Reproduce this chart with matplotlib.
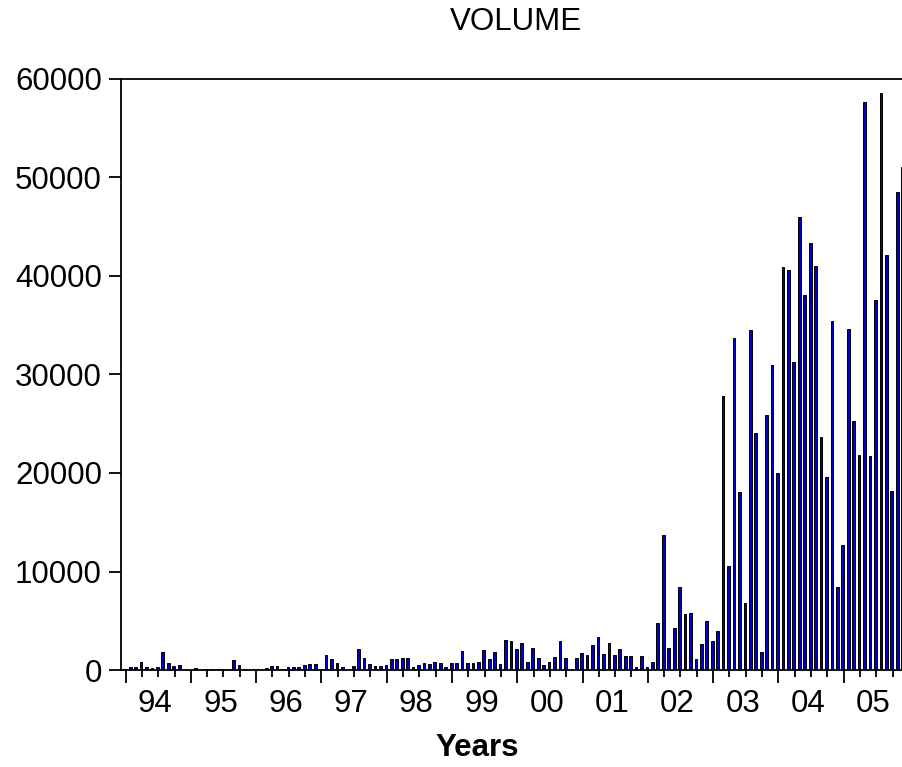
import numpy as np
import matplotlib
matplotlib.use("Agg")
import matplotlib.pyplot as plt

plt.rcParams["font.family"] = ["Liberation Sans", "DejaVu Sans"]

# monthly volume, Jan..Dec of each year (0 = no bar drawn)
YEARS = ["94", "95", "96", "97", "98", "99", "00", "01", "02", "03", "04", "05"]
v1994 = [150, 270, 270, 800, 300, 185, 270, 1820, 680, 435, 520, 0]
v1995 = [0, 170, 0, 100, 110, 120, 130, 140, 1050, 520, 70, 0]
v1996 = [100, 0, 250, 450, 370, 70, 340, 340, 300, 490, 650, 630]
v1997 = [0, 1520, 1150, 745, 300, 0, 450, 2170, 1170, 575, 420, 420]
v1998 = [490, 1100, 1130, 1180, 1230, 290, 500, 760, 575, 810, 710, 300]
v1999 = [690, 710, 1960, 675, 675, 830, 2010, 1110, 1780, 575, 3080, 2900]
v2000 = [2100, 2720, 840, 2200, 1250, 520, 800, 1300, 2920, 1220, 0, 1200]
v2001 = [1750, 1570, 2530, 3330, 1650, 2700, 1500, 2110, 1470, 1470, 290, 1400]
v2002 = [330, 830, 4730, 13700, 2280, 4300, 8400, 5700, 5800, 1100, 2600, 5000]
v2003 = [2900, 3940, 27800, 10600, 33700, 18050, 6850, 34500, 24050, 1870, 25900, 31000]
v2004 = [20000, 40950, 40650, 31300, 46000, 38050, 43400, 41000, 23650, 19600, 35450, 8450]
v2005 = [12650, 34600, 25300, 21850, 57650, 21750, 37550, 58550, 42150, 18200, 48500, 51050]

volume = np.array(v1994 + v1995 + v1996 + v1997 + v1998 + v1999 + v2000 + v2001
                  + v2002 + v2003 + v2004 + v2005, dtype=float)
months = np.arange(len(volume))

W, H = 903, 767
fig = plt.figure(figsize=(W / 100, H / 100), dpi=100)
ax = fig.add_axes([121.5 / W, (H - 670) / H, 784.4 / W, 591 / H])

mask = volume > 0
ax.bar(months[mask], volume[mask], width=0.5, color="#0000c8",
       edgecolor="black", linewidth=0.7)

ax.set_xlim(-0.6, 143.6)
ax.set_ylim(0, 60000)

ax.spines["right"].set_visible(False)
for s in ("left", "top", "bottom"):
    ax.spines[s].set_linewidth(1.3)

ax.set_yticks(np.arange(0, 60001, 10000))
ax.tick_params(axis="y", direction="out", length=8.6, width=1.3, pad=5.5, labelsize=22.5)

year_pos = np.arange(0, len(volume), 12) + 0.15
ax.set_xticks(year_pos)
ax.set_xticks(np.arange(0, len(volume), 3) + 0.15, minor=True)
ax.set_xticklabels([])
ax.tick_params(axis="x", which="major", direction="out", length=9.5, width=1.3)
ax.tick_params(axis="x", which="minor", direction="out", length=5, width=1.3)

for yp, lab in zip(year_pos, YEARS):
    ax.text(yp + 5.45, -0.0575, lab, transform=ax.get_xaxis_transform(),
            ha="center", va="center", fontsize=22.5)

fig.text(516 / W, 1 - 21.5 / H, "VOLUME", ha="center", va="center", fontsize=22.5)
fig.text(477 / W, 1 - 748 / H, "Years", ha="center", va="center", fontsize=22.5,
         fontweight="bold")

fig.savefig("out.png", dpi=100)
